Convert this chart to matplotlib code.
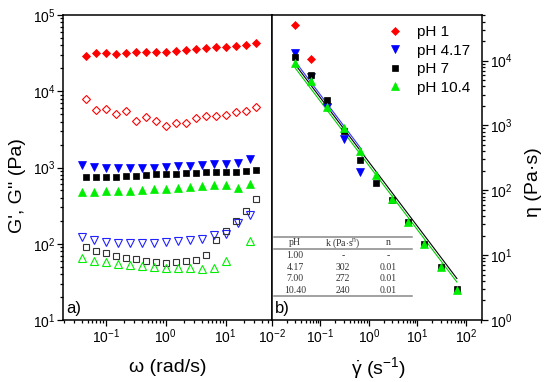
import matplotlib
matplotlib.use("Agg")
import matplotlib.pyplot as plt
import numpy as np
from matplotlib.lines import Line2D

plt.rcParams['font.family'] = ['Liberation Sans', 'DejaVu Sans']
plt.rcParams['mathtext.fontset'] = 'custom'
plt.rcParams['mathtext.rm'] = 'Liberation Sans'
plt.rcParams['mathtext.it'] = 'Liberation Sans:italic'
plt.rcParams['mathtext.bf'] = 'Liberation Sans:bold'

# ---------------- data: panel a) frequency sweeps ----------------
omega18 = [0.0464, 0.0681, 0.1, 0.147, 0.215, 0.316, 0.464, 0.681, 1.0, 1.47,
           2.15, 3.16, 4.64, 6.81, 10.0, 14.7, 21.5, 31.6]
omega15 = [0.04, 0.063, 0.1, 0.158, 0.25, 0.4, 0.63, 1.0, 1.58, 2.5, 4.0,
           6.3, 10.0, 15.8, 25.0]

g1_pH1 = [29300, 31400, 31400, 30500, 32100, 32400, 32400, 33000, 33000, 34000,
          34400, 35500, 36600, 37700, 38500, 39700, 40400, 43400]
g2_pH1 = [7910, 5680, 5850, 5030, 5560, 4110, 4640, 4110, 3500, 3870,
          3870, 4420, 4730, 4780, 4890, 5400, 5510, 6280]

g1_pH417 = [1080, 1025, 995, 975, 975, 975, 995, 1025, 1047, 1057, 1080,
            1110, 1110, 1157, 1290]
g2_pH417 = [121, 111, 104.5, 101.4, 101.4, 103.3, 103.3, 105.4, 107.6, 111,
            114.3, 130, 133, 185, 238]

g1_pH7 = [743, 743, 750, 758, 774, 782, 798, 813, 822, 830, 839, 856, 873,
          882, 882, 864, 908, 927]
g2_pH7 = [91.6, 81.2, 76.3, 69.7, 65.7, 62.5, 60.0, 57.1, 55.9, 57.1, 58.8,
          61.2, 71.1, 112, 148.6, 201, 272, 383]

g1_pH104 = [482, 482, 487, 492, 497, 507, 523, 528, 544, 555, 572, 584, 589,
            533, 601]
omega_g2_pH104 = [0.04, 0.063, 0.1, 0.158, 0.25, 0.4, 0.63, 1.0, 1.58, 2.5,
                  4.0, 6.3, 10.0, 25.0]
g2_pH104 = [64.4, 59.4, 57.1, 54.2, 52.6, 51.0, 49.0, 48.6, 48.6, 48.1, 46.6,
            48.6, 59.4, 110]

# ---------------- data: panel b) flow curves ----------------
rate = [0.03, 0.0646, 0.139, 0.3, 0.646, 1.39, 3.0, 6.46, 13.9, 30.0, 64.6]
eta_pH1 = [35400, 10600, 2130]
eta_pH417 = [13000, 5560, 1960, 618, 194]
eta_pH7 = [11500, 6030, 2480, 829, 297, 130, 70, 32.2, 15.0, 6.63, 2.97]
eta_pH104 = [9120, 4920, 1920, 912, 398, 170, 74, 32, 15, 6.6, 2.86]

# power-law fits (table)
table_pH = ['1.00', '4.17', '7.00', '10.40']
table_k = ['-', '302', '272', '240']
table_n = ['-', '0.01', '0.01', '0.01']
fit_k = {'4.17': 302, '7': 272, '10.4': 240}
fit_n = 0.01
fit_range_417 = [0.03, 0.7]
fit_range = [0.03, 65]

legend_labels = ['pH 1', 'pH 4.17', 'pH 7', 'pH 10.4']

RED = '#ff0000'
BLUE = '#0000ff'
BLACK = '#000000'
GREEN = '#00ee00'

W, H = 550, 382
fig = plt.figure(figsize=(W / 100, H / 100), dpi=100)
L, R, T, B, MID = 63, 482, 15, 320, 272
ax1 = fig.add_axes([L / W, 1 - B / H, (MID - L) / W, (B - T) / H])
ax2 = fig.add_axes([MID / W, 1 - B / H, (R - MID) / W, (B - T) / H])

# ---------- panel a ----------
ax1.set_xscale('log')
ax1.set_yscale('log')
ax1.plot(omega18, g1_pH1, ls='none', marker='D', ms=3.8, color=RED, mew=0.6)
ax1.plot(omega18, g2_pH1, ls='none', marker='D', ms=3.8, mfc='none', mec=RED, mew=0.8)
ax1.plot(omega15, g1_pH417, ls='none', marker='v', ms=5.5, color=BLUE, mew=0.5)
ax1.plot(omega15, g2_pH417, ls='none', marker='v', ms=5.5, mfc='none', mec='#2222ff', mew=0.8)
ax1.plot(omega18, g1_pH7, ls='none', marker='s', ms=4.2, color=BLACK, mew=0.5)
ax1.plot(omega18, g2_pH7, ls='none', marker='s', ms=4.5, mfc='none', mec='#333333', mew=0.8)
ax1.plot(omega15, g1_pH104, ls='none', marker='^', ms=5.3, color=GREEN, mew=0.5)
ax1.plot(omega_g2_pH104, g2_pH104, ls='none', marker='^', ms=5.3, mfc='none', mec=GREEN, mew=0.8)

ax1.set_xlim(0.0194, 59.1)
ax1.set_ylim(10, 1e5)
ax1.text(0.015, 0.012, 'a)', transform=ax1.transAxes, fontsize=12, ha='left', va='bottom')

# ---------- panel b ----------
ax2.set_xscale('log')
ax2.set_yscale('log')
gb = np.array(fit_range_417)
gx = np.array(fit_range)
ax2.plot(gb, fit_k['4.17'] * gb ** (fit_n - 1), color='#3333ff', lw=0.8)
ax2.plot(gx, fit_k['7'] * gx ** (fit_n - 1), color=BLACK, lw=0.8)
ax2.plot(gx, fit_k['10.4'] * gx ** (fit_n - 1), color='#00cc00', lw=0.8)

h1, = ax2.plot(rate[:len(eta_pH1)], eta_pH1, ls='none', marker='D', ms=4.0, color=RED, mew=0.5)
h2, = ax2.plot(rate[:len(eta_pH417)], eta_pH417, ls='none', marker='v', ms=5.5, color=BLUE, mew=0.5)
h3, = ax2.plot(rate, eta_pH7, ls='none', marker='s', ms=4.3, color=BLACK, mew=0.5)
h4, = ax2.plot(rate, eta_pH104, ls='none', marker='^', ms=5.5, color=GREEN, mew=0.5)

ax2.set_xlim(0.01, 214)
ax2.set_ylim(1, 50500)
ax2.yaxis.tick_right()

leg = ax2.legend([h1, h2, h3, h4], legend_labels, loc='upper left',
                 bbox_to_anchor=(0.549, 0.967), frameon=False, fontsize=11,
                 handlelength=1.0, handletextpad=0.94, labelspacing=0.3,
                 borderpad=0, borderaxespad=0, numpoints=1)

ax2.text(0.015, 0.012, 'b)', transform=ax2.transAxes, fontsize=12, ha='left', va='bottom')

# table
tx0, tx1 = 0.0095, 0.667
for yy in [0.273, 0.233, 0.079]:
    ax2.add_line(Line2D([tx0, tx1], [yy, yy], transform=ax2.transAxes,
                        color='#888888', lw=1.1))
cols = [0.110, 0.337, 0.554]
tfont = dict(fontsize=7, family=['Liberation Serif', 'DejaVu Serif'],
             color='#333333', ha='center', va='center', transform=ax2.transAxes)
ax2.text(cols[0], 0.253, 'pH', **tfont)
ax2.text(cols[1], 0.253, r'k (Pa$\cdot$s$^{\mathrm{n}}$)', **tfont)
ax2.text(cols[2], 0.253, 'n', **tfont)
rows = [0.210, 0.173, 0.135, 0.098]
for yy, a, b, c in zip(rows, table_pH, table_k, table_n):
    ax2.text(cols[0], yy, a, **tfont)
    ax2.text(cols[1], yy, b, **tfont)
    ax2.text(cols[2], yy, c, **tfont)

# ---------- styling ----------
for ax in (ax1, ax2):
    for s in ax.spines.values():
        s.set_linewidth(1.1)
    ax.tick_params(which='both', direction='out', width=0.9, labelsize=10,
                   top=False)
    ax.tick_params(which='major', length=4, pad=1.5)
    ax.tick_params(which='minor', length=2.2)
ax1.tick_params(which='both', right=False, left=True)
ax2.tick_params(which='both', left=False, right=True, labelleft=False, labelright=True)
for axis in (ax1.xaxis, ax2.xaxis, ax1.yaxis, ax2.yaxis):
    axis.set_minor_locator(matplotlib.ticker.LogLocator(subs=np.arange(2, 10), numticks=20))
    axis.set_minor_formatter(matplotlib.ticker.NullFormatter())

# axis labels
fig.text(18 / W, 1 - 186 / H, "G', G'' (Pa)", rotation=90, fontsize=14,
         ha='center', va='center')
fig.text(533 / W, 1 - 182.5 / H, "η (Pa·s)", rotation=90, fontsize=14,
         ha='center', va='center')
fig.text(167.5 / W, 1 - 368 / H, "ω (rad/s)", fontsize=14, ha='center', va='center')
fig.text(378 / W, 1 - 368 / H, r"$\dot{\mathrm{\gamma}}$ (s$^{-1}$)", fontsize=14,
         ha='center', va='center')

fig.savefig('out.png', dpi=100)
